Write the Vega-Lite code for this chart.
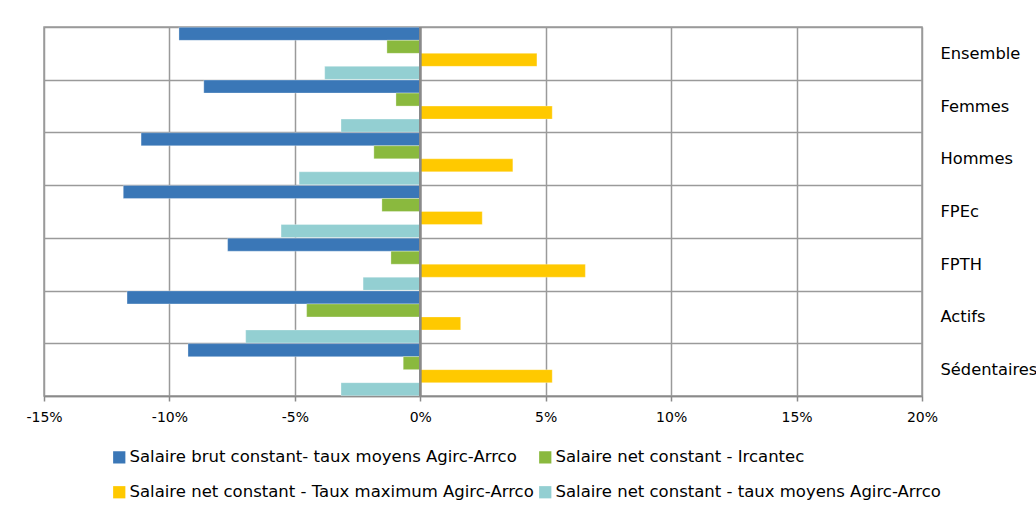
{
  "$schema": "https://vega.github.io/schema/vega-lite/v6.json",
  "autosize": "none",
  "width": 878,
  "height": 369,
  "padding": {"left": 44, "top": 27, "right": 114, "bottom": 117},
  "background": "white",
  "config": {
    "font": "DejaVu Sans",
    "view": {"stroke": "#9a9a9a", "strokeWidth": 1.5},
    "axis": {"labelFont": "DejaVu Sans", "labelColor": "#000000"},
    "legend": {"labelFont": "DejaVu Sans"}
  },
  "data": {
    "values": [
      {"cat": "Ensemble", "series": "Salaire brut constant- taux moyens Agirc-Arrco", "value": -9.62},
      {"cat": "Ensemble", "series": "Salaire net constant - Ircantec", "value": -1.33},
      {"cat": "Ensemble", "series": "Salaire net constant - Taux maximum Agirc-Arrco", "value": 4.65},
      {"cat": "Ensemble", "series": "Salaire net constant - taux moyens Agirc-Arrco", "value": -3.81},
      {"cat": "Femmes", "series": "Salaire brut constant- taux moyens Agirc-Arrco", "value": -8.63},
      {"cat": "Femmes", "series": "Salaire net constant - Ircantec", "value": -0.97},
      {"cat": "Femmes", "series": "Salaire net constant - Taux maximum Agirc-Arrco", "value": 5.26},
      {"cat": "Femmes", "series": "Salaire net constant - taux moyens Agirc-Arrco", "value": -3.16},
      {"cat": "Hommes", "series": "Salaire brut constant- taux moyens Agirc-Arrco", "value": -11.13},
      {"cat": "Hommes", "series": "Salaire net constant - Ircantec", "value": -1.85},
      {"cat": "Hommes", "series": "Salaire net constant - Taux maximum Agirc-Arrco", "value": 3.69},
      {"cat": "Hommes", "series": "Salaire net constant - taux moyens Agirc-Arrco", "value": -4.83},
      {"cat": "FPEc", "series": "Salaire brut constant- taux moyens Agirc-Arrco", "value": -11.84},
      {"cat": "FPEc", "series": "Salaire net constant - Ircantec", "value": -1.53},
      {"cat": "FPEc", "series": "Salaire net constant - Taux maximum Agirc-Arrco", "value": 2.47},
      {"cat": "FPEc", "series": "Salaire net constant - taux moyens Agirc-Arrco", "value": -5.55},
      {"cat": "FPTH", "series": "Salaire brut constant- taux moyens Agirc-Arrco", "value": -7.68},
      {"cat": "FPTH", "series": "Salaire net constant - Ircantec", "value": -1.17},
      {"cat": "FPTH", "series": "Salaire net constant - Taux maximum Agirc-Arrco", "value": 6.58},
      {"cat": "FPTH", "series": "Salaire net constant - taux moyens Agirc-Arrco", "value": -2.28},
      {"cat": "Actifs", "series": "Salaire brut constant- taux moyens Agirc-Arrco", "value": -11.69},
      {"cat": "Actifs", "series": "Salaire net constant - Ircantec", "value": -4.53},
      {"cat": "Actifs", "series": "Salaire net constant - Taux maximum Agirc-Arrco", "value": 1.61},
      {"cat": "Actifs", "series": "Salaire net constant - taux moyens Agirc-Arrco", "value": -6.96},
      {"cat": "Sédentaires", "series": "Salaire brut constant- taux moyens Agirc-Arrco", "value": -9.26},
      {"cat": "Sédentaires", "series": "Salaire net constant - Ircantec", "value": -0.68},
      {"cat": "Sédentaires", "series": "Salaire net constant - Taux maximum Agirc-Arrco", "value": 5.26},
      {"cat": "Sédentaires", "series": "Salaire net constant - taux moyens Agirc-Arrco", "value": -3.16}
    ]
  },
  "layer": [
    {
      "mark": {"type": "bar", "stroke": "white", "strokeWidth": 0.5, "strokeOpacity": 0.6},
      "encoding": {
        "y": {
          "field": "cat",
          "type": "nominal",
          "sort": ["Ensemble", "Femmes", "Hommes", "FPEc", "FPTH", "Actifs", "Sédentaires"],
          "scale": {"paddingInner": 0, "paddingOuter": 0},
          "axis": {
            "orient": "right",
            "title": null,
            "domain": false,
            "ticks": false,
            "tickBand": "extent",
            "grid": true,
            "gridColor": "#9a9a9a",
            "gridWidth": 1.5,
            "labelPadding": 18,
            "labelAlign": "left",
            "labelFontSize": 16.3,
            "labelColor": "#000000"
          }
        },
        "yOffset": {
          "field": "series",
          "type": "nominal",
          "sort": [
            "Salaire brut constant- taux moyens Agirc-Arrco",
            "Salaire net constant - Ircantec",
            "Salaire net constant - Taux maximum Agirc-Arrco",
            "Salaire net constant - taux moyens Agirc-Arrco"
          ],
          "scale": {"paddingInner": 0, "paddingOuter": 0.025}
        },
        "x": {
          "field": "value",
          "type": "quantitative",
          "scale": {"domain": [-15, 20], "nice": false, "zero": false},
          "axis": {
            "title": null,
            "values": [-15, -10, -5, 0, 5, 10, 15, 20],
            "labelExpr": "datum.value + '%'",
            "labelFlush": false,
            "labelFontSize": 14,
            "labelPadding": 9,
            "domainColor": "#8a8a8a",
            "domainWidth": 1.5,
            "tickColor": "#8a8a8a",
            "tickWidth": 1.5,
            "tickSize": 5,
            "grid": true,
            "gridColor": "#9a9a9a",
            "gridWidth": 1.5
          }
        },
        "color": {
          "field": "series",
          "type": "nominal",
          "scale": {
            "domain": [
              "Salaire brut constant- taux moyens Agirc-Arrco",
              "Salaire net constant - Ircantec",
              "Salaire net constant - Taux maximum Agirc-Arrco",
              "Salaire net constant - taux moyens Agirc-Arrco"
            ],
            "range": ["#3A77B7", "#8AB93E", "#FFC900", "#93CFD2"]
          },
          "legend": {
            "orient": "none",
            "legendX": 67,
            "legendY": 422,
            "direction": "horizontal",
            "columns": 2,
            "title": null,
            "symbolType": "square",
            "symbolSize": 150,
            "symbolStrokeWidth": 0,
            "labelFontSize": 16.5,
            "labelOffset": 2,
            "labelLimit": 600,
            "columnPadding": 3,
            "rowPadding": 18,
            "labelColor": "#000000"
          }
        }
      }
    },
    {
      "mark": {"type": "rule", "color": "#8a8a8a", "strokeWidth": 1.5},
      "encoding": {"x": {"datum": 0}}
    }
  ]
}
